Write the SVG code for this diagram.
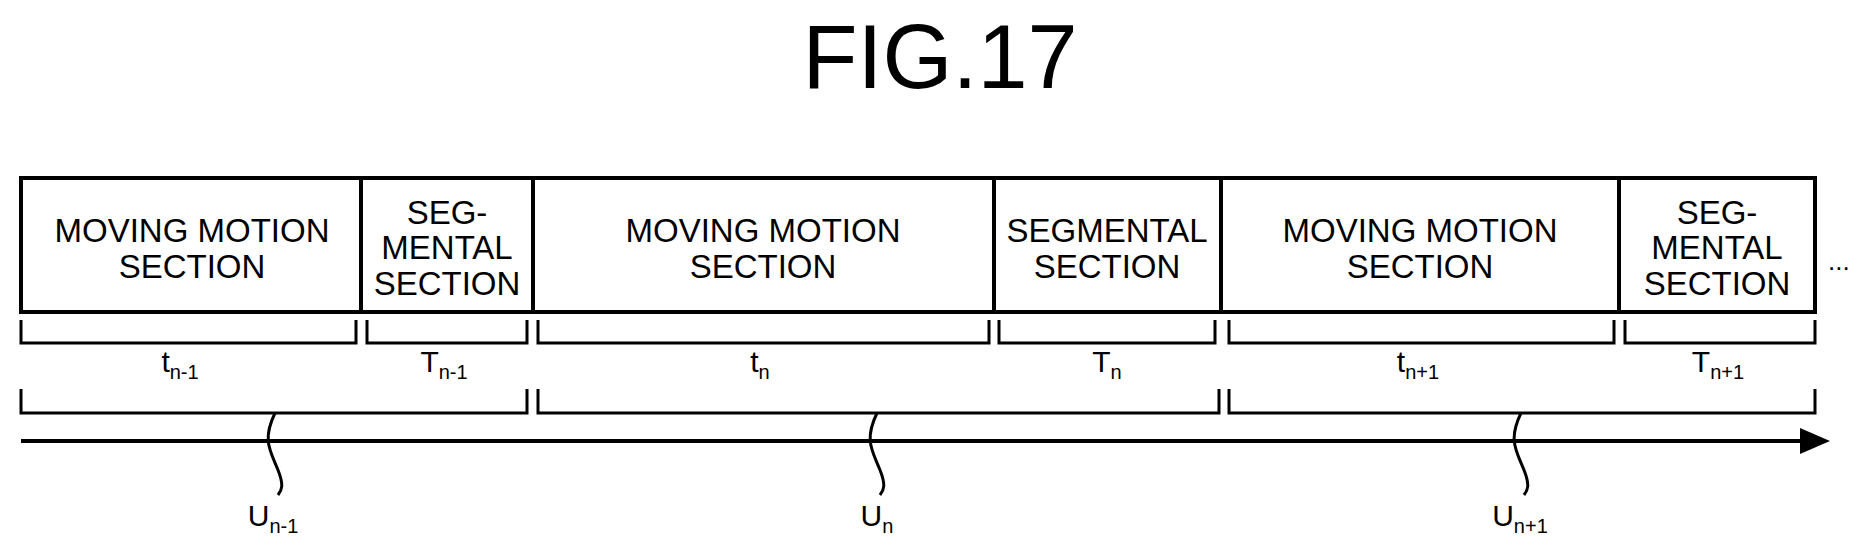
<svg xmlns="http://www.w3.org/2000/svg" width="1876" height="550" viewBox="0 0 1876 550">
<style>
text{font-family:"Liberation Sans",Arial,sans-serif;fill:#000}
.b{font-size:33px;text-anchor:middle}
.l{font-size:30px;text-anchor:middle}
.s{font-size:20px}
.br{fill:none;stroke:#000;stroke-width:3}
.bx{fill:#fff;stroke:#000;stroke-width:4}
</style>
<rect width="1876" height="550" fill="#fff"/>
<text x="940" y="88" font-size="90" text-anchor="middle">FIG.17</text>
<g id="n1"><rect class="bx" x="21" y="178" width="340" height="134"/><text class="b" x="192" y="242">MOVING MOTION</text><text class="b" x="192" y="278">SECTION</text></g>
<g id="n2"><rect class="bx" x="361" y="178" width="172" height="134"/><text class="b" x="447" y="224">SEG-</text><text class="b" x="447" y="259">MENTAL</text><text class="b" x="447" y="295">SECTION</text></g>
<g id="n3"><rect class="bx" x="533" y="178" width="461" height="134"/><text class="b" x="763" y="242">MOVING MOTION</text><text class="b" x="763" y="278">SECTION</text></g>
<g id="n4"><rect class="bx" x="994" y="178" width="227" height="134"/><text class="b" x="1107" y="242">SEGMENTAL</text><text class="b" x="1107" y="278">SECTION</text></g>
<g id="n5"><rect class="bx" x="1221" y="178" width="398" height="134"/><text class="b" x="1420" y="242">MOVING MOTION</text><text class="b" x="1420" y="278">SECTION</text></g>
<g id="n6"><rect class="bx" x="1619" y="178" width="196" height="134"/><text class="b" x="1717" y="224">SEG-</text><text class="b" x="1717" y="259">MENTAL</text><text class="b" x="1717" y="295">SECTION</text></g>
<text x="1828" y="270" font-size="26">...</text>
<g id="connectors">
<path class="br" d="M21,320V343H356V320M367,320V343H527V320M538,320V343H989V320M999,320V343H1215V320M1229,320V343H1614V320M1625,320V343H1815V320"/>
<path class="br" d="M21,389V413H527V389M538,389V413H1219V389M1229,389V413H1815V389"/>
<line x1="21" y1="441" x2="1805" y2="441" stroke="#000" stroke-width="4"/>
<path d="M1800,428 L1830,441 L1800,454Z" fill="#000"/>
<path class="br" stroke-width="2" d="M275,413 C262,440 270,450 278,470 C284,485 282,490 278,495"/>
<path class="br" stroke-width="2" d="M877,413 C864,440 872,450 880,470 C886,485 884,490 880,495"/>
<path class="br" stroke-width="2" d="M1521,413 C1508,440 1516,450 1524,470 C1530,485 1528,490 1524,495"/>
</g>
<g id="labels">
<text class="l" x="180" y="372">t<tspan class="s" dy="7">n-1</tspan></text>
<text class="l" x="444" y="372">T<tspan class="s" dy="7">n-1</tspan></text>
<text class="l" x="760" y="372">t<tspan class="s" dy="7">n</tspan></text>
<text class="l" x="1107" y="372">T<tspan class="s" dy="7">n</tspan></text>
<text class="l" x="1418" y="372">t<tspan class="s" dy="7">n+1</tspan></text>
<text class="l" x="1718" y="372">T<tspan class="s" dy="7">n+1</tspan></text>
<text class="l" x="273" y="526">U<tspan class="s" dy="7">n-1</tspan></text>
<text class="l" x="877" y="526">U<tspan class="s" dy="7">n</tspan></text>
<text class="l" x="1520" y="526">U<tspan class="s" dy="7">n+1</tspan></text>
</g>
</svg>
